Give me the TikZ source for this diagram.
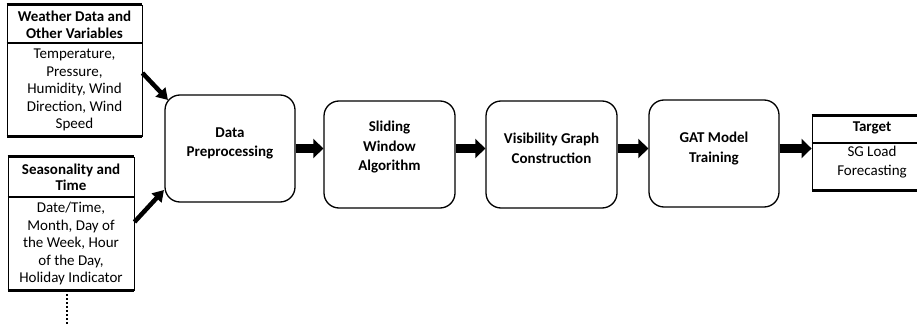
\documentclass[tikz,border=0pt]{standalone}
\usepackage{fontspec}
\setmainfont{Carlito}
\usetikzlibrary{arrows.meta,calc}
\tikzset{
 procbox/.style={draw=black, line width=1.3pt, rounded corners=15pt, inner sep=0pt},
 proctext/.style={font=\fontsize{15}{19.5}\selectfont\bfseries, align=center, inner sep=0pt},
 sidebox/.style={draw=black, line width=0.9pt, inner sep=0pt},
 heavy/.style={line width=2.6pt},
 sepline/.style={line width=2.2pt},
 headtext/.style={font=\fontsize{15}{16.5}\selectfont\bfseries, align=center, inner sep=0pt},
 bodytext/.style={font=\fontsize{15}{17.5}\selectfont, align=center, inner sep=0pt},
 bigarrow/.style={line width=9pt, -{Triangle[length=10pt,width=19pt]}},
 diagarrow/.style={line width=4.5pt, -{Triangle[length=11pt,width=13pt]}},
 dotline/.style={line width=1.4pt, dash pattern=on 1.4pt off 2.6pt},
}
\begin{document}
\begin{tikzpicture}[x=1pt,y=-1pt]
\useasboundingbox (0,0) rectangle (917,326);
\clip (0,0) rectangle (917,326);

% process boxes
\node[procbox, minimum width=130pt, minimum height=107pt] (dp) at (230,148.5) {};
\node[proctext] (dpt) at (230,143.5) {Data\\Preprocessing};
\node[procbox, minimum width=131pt, minimum height=107pt] (sw) at (389.5,154.5) {};
\node[proctext] (swt) at (389.5,147.5) {Sliding\\Window\\Algorithm};
\node[procbox, minimum width=131pt, minimum height=107pt] (vg) at (551.5,154.5) {};
\node[proctext] (vgt) at (551.5,148.5) {Visibility Graph\\Construction};
\node[procbox, minimum width=130pt, minimum height=107pt] (gat) at (714,153.5) {};
\node[proctext] (gatt) at (714,148.5) {GAT Model\\Training};

% weather box
\node[sidebox, minimum width=135pt, minimum height=131pt] (wb) at (74.5,70.5) {};
\draw[heavy] (wb.north west) -- (wb.north east);
\draw[heavy] (wb.south west) -- (wb.south east);
\coordinate (wsep) at (7,43);
\draw[sepline] (wb.west |- wsep) -- (wb.east |- wsep);
\node[headtext] (wh) at (74.5,25) {Weather Data and\\Other Variables};
\node[bodytext] (wt) at (74.5,90) {Temperature,\\Pressure,\\Humidity, Wind\\Direction, Wind\\Speed};

% seasonality box
\node[sidebox, minimum width=126pt, minimum height=133pt] (sb) at (71,223.5) {};
\draw[heavy] (sb.north west) -- (sb.north east);
\draw[heavy] (sb.south west) -- (sb.south east);
\coordinate (ssep) at (8,197);
\draw[sepline] (sb.west |- ssep) -- (sb.east |- ssep);
\node[headtext] (sh) at (71,177.5) {Seasonality and\\Time};
\node[bodytext] (st) at (71,243.5) {Date/Time,\\Month, Day of\\the Week, Hour\\of the Day,\\Holiday Indicator};

% target box
\node[sidebox, minimum width=120pt, minimum height=74pt] (tg) at (872,153) {};
\draw[heavy] (tg.north west) -- (tg.north east);
\draw[heavy] (tg.south west) -- (tg.south east);
\coordinate (tsep) at (812,143);
\draw[sepline] (tg.west |- tsep) -- (tg.east |- tsep);
\node[headtext] (th) at (872,128) {Target};
\node[bodytext, font=\fontsize{15}{19}\selectfont] (tt) at (872,162.5) {SG Load\\Forecasting};

% arrows
\draw[bigarrow] (dp.east) -- (sw.west |- dp.east);
\draw[bigarrow] (sw.east |- dp.east) -- (vg.west |- dp.east);
\draw[bigarrow] (vg.east |- dp.east) -- (gat.west |- dp.east);
\draw[bigarrow] (gat.east |- dp.east) -- (tg.west |- dp.east);

\coordinate (wstart) at (142,73);
\coordinate (wend) at (168,100);
\draw[diagarrow] (wb.east |- wstart) -- (wend);
\coordinate (sstart) at (134,222);
\coordinate (send) at (164,190);
\draw[diagarrow] (sb.east |- sstart) -- (send);

\coordinate (dotend) at (67,330);
\draw[dotline] ([yshift=-4pt]sb.south -| dotend) -- (dotend);
\end{tikzpicture}
\end{document}
